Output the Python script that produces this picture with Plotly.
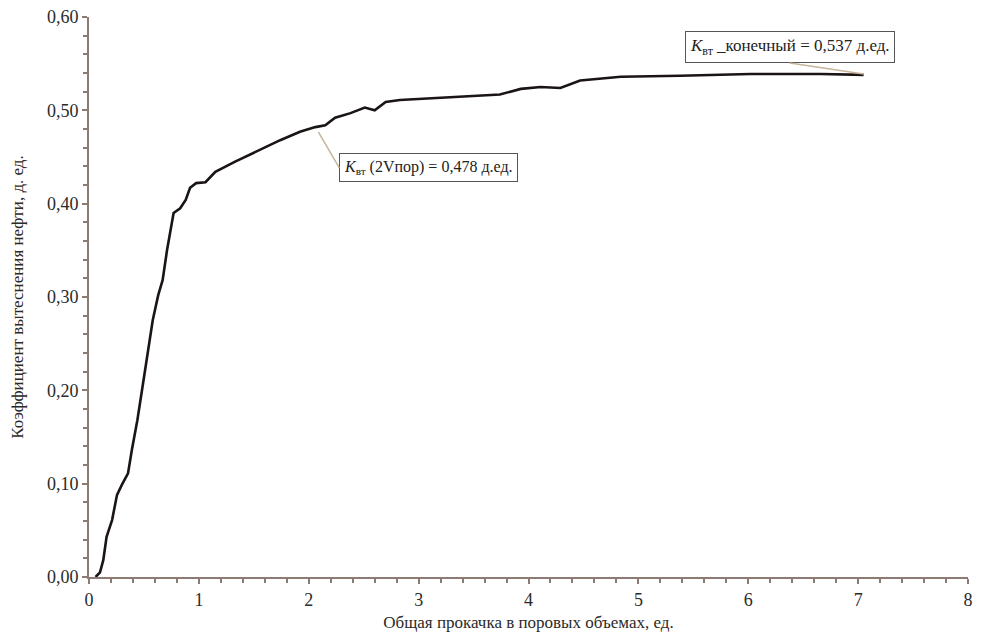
import plotly.graph_objects as go

# Total injection in pore volumes
pore_volumes = [0.06, 0.10, 0.13, 0.16, 0.21, 0.255, 0.30, 0.355, 0.39, 0.44, 0.49, 0.54, 0.58,
                0.63, 0.67, 0.71, 0.74, 0.77, 0.83, 0.88, 0.92, 0.975, 1.06, 1.15, 1.33,
                1.51, 1.74, 1.92, 2.06, 2.15, 2.24, 2.38, 2.51, 2.60, 2.70, 2.83, 3.10,
                3.47, 3.74, 3.93, 4.11, 4.29, 4.47, 4.84, 5.38, 6.02, 6.66, 7.05]
# Displacement coefficient
k_displacement = [0.0, 0.005, 0.018, 0.043, 0.061, 0.088, 0.099, 0.111, 0.136, 0.168, 0.206, 0.243, 0.275,
                  0.302, 0.318, 0.350, 0.372, 0.390, 0.395, 0.404, 0.417, 0.422, 0.423, 0.434, 0.445,
                  0.455, 0.468, 0.477, 0.482, 0.484, 0.492, 0.497, 0.503, 0.500, 0.509, 0.511, 0.513,
                  0.515, 0.517, 0.523, 0.525, 0.524, 0.532, 0.536, 0.537, 0.539, 0.539, 0.538]

x_ticks = [0, 1, 2, 3, 4, 5, 6, 7, 8]
y_ticks = [0.0, 0.1, 0.2, 0.3, 0.4, 0.5, 0.6]

axis_color = "#8b7b73"
font_family = "Liberation Serif"

fig = go.Figure()
fig.add_trace(go.Scatter(x=pore_volumes, y=k_displacement, mode="lines",
                         line=dict(color="#1a1414", width=2.6), showlegend=False))

fig.update_layout(
    width=971, height=625,
    margin=dict(l=81, r=11, t=9, b=56),
    paper_bgcolor="white", plot_bgcolor="white",
    separators=", ",
    font=dict(family=font_family, size=18, color="#2a2a2a"),
)
fig.update_xaxes(
    range=[0, 8], tickvals=x_ticks, showgrid=False, zeroline=False, automargin=False,
    showline=True, linecolor=axis_color, linewidth=2,
    ticks="outside", ticklen=5, tickcolor=axis_color, tickwidth=2,
    minor=dict(dtick=0.2, ticks="outside", ticklen=4, tickcolor=axis_color, tickwidth=2),
    tickfont=dict(family=font_family, size=18), ticklabeloverflow="allow",
    title=dict(text="Общая прокачка в поровых объемах, ед.", font=dict(family=font_family, size=17), standoff=8),
)
fig.update_yaxes(
    range=[0, 0.6], tickvals=y_ticks, tickformat=".2f", showgrid=False, zeroline=False, automargin=False,
    showline=True, linecolor=axis_color, linewidth=2,
    ticks="outside", ticklen=5, tickcolor=axis_color, tickwidth=2,
    minor=dict(dtick=0.02, ticks="outside", ticklen=4, tickcolor=axis_color, tickwidth=2),
    tickfont=dict(family=font_family, size=18), ticklabeloverflow="allow",
    title=dict(text="Коэффициент вытеснения нефти, д. ед.", font=dict(family=font_family, size=17), standoff=20),
)

fig.add_annotation(
    x=2.087, y=0.477, xref="x", yref="y",
    text="<i>K</i><sub>вт</sub> (2Vпор) = 0,478 д.ед.",
    showarrow=True, arrowhead=0, arrowwidth=1.5, arrowcolor="#c8b49c",
    ax=21, ay=36, xanchor="left", yanchor="middle",
    bordercolor="#555555", borderwidth=1, borderpad=4, bgcolor="white",
    font=dict(family=font_family, size=16, color="#222222"),
)
fig.add_annotation(
    x=7.05, y=0.539, xref="x", yref="y",
    text="<i>K</i><sub>вт</sub> _конечный = 0,537 д.ед.",
    showarrow=True, arrowhead=0, arrowwidth=1.5, arrowcolor="#c8b49c",
    ax=-74, ay=-11, xanchor="center", yanchor="bottom",
    bordercolor="#555555", borderwidth=1, borderpad=4, bgcolor="white",
    font=dict(family=font_family, size=17, color="#222222"),
)

fig.write_html("out.html")
